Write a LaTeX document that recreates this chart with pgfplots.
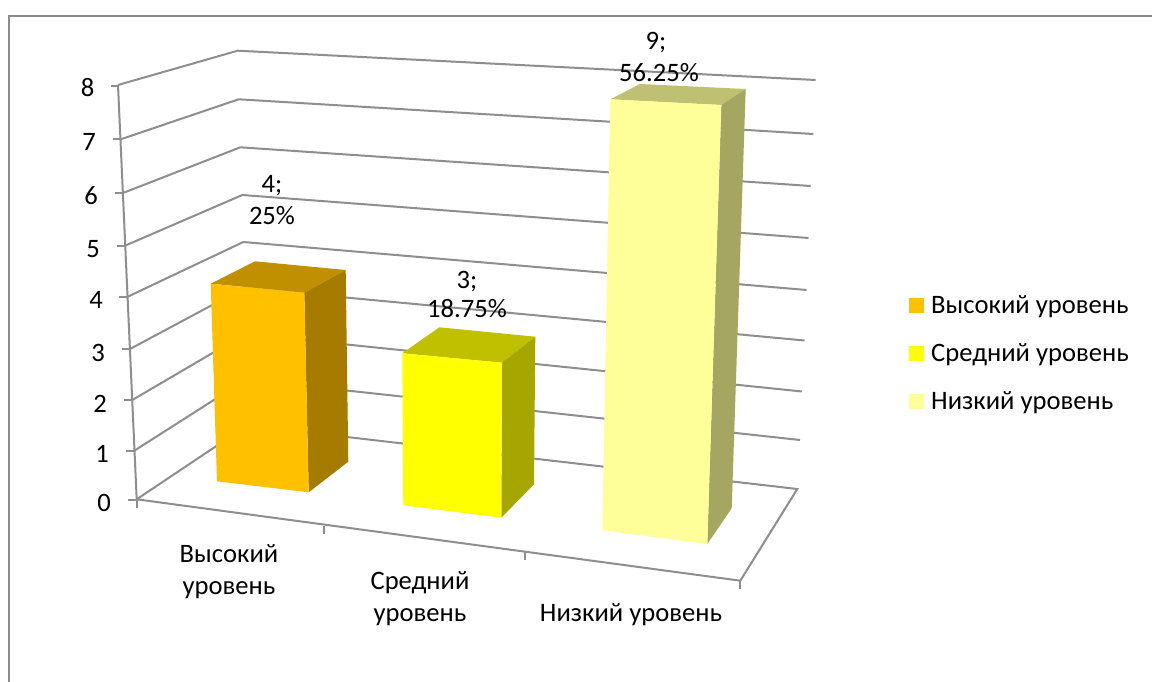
\documentclass[border=0pt]{standalone}
\usepackage{fontspec}
\setmainfont{Carlito}
\usepackage{pgfplots}
\pgfplotsset{compat=1.18}
\definecolor{gridc}{HTML}{8E8E8E}
\definecolor{framec}{HTML}{8C8C8C}
\definecolor{oF}{HTML}{FFC000}\definecolor{oT}{HTML}{C09000}\definecolor{oS}{HTML}{A67C00}
\definecolor{yF}{HTML}{FFFF00}\definecolor{yT}{HTML}{C0C000}\definecolor{yS}{HTML}{A6A600}
\definecolor{lF}{HTML}{FFFF99}\definecolor{lT}{HTML}{C0C073}\definecolor{lS}{HTML}{A6A663}
\begin{document}
\begin{tikzpicture}[every node/.style={font=\fontsize{26.6}{32}\selectfont,text=black,inner sep=0pt}]
\begin{axis}[
  scale only axis,width=1152pt,height=682pt,
  xmin=0,xmax=1152,ymin=0,ymax=682,y dir=reverse,
  hide axis,clip=true,
  legend cell align=left,
  legend style={at={(axis cs:909,294)},anchor=north west,draw=none,fill=none,
    font=\fontsize{26.6}{32}\selectfont,inner sep=0pt,outer sep=0pt,
    row sep=24.5pt,/tikz/column 1/.style={column sep=5.5pt}},
  legend image code/.code={\fill[#1] (0pt,-7.3pt) rectangle (14.7pt,7.3pt);},
]
% page background and outer frame
\addplot[fill=white,draw=none,forget plot] coordinates {(0,0)(1152,0)(1152,682)(0,682)} --cycle;
\addplot[framec,line width=2.2pt,forget plot] coordinates {(9,682)(9,16)(1152,16)};
% gridlines: front wall edge, back corner, right end
\addplot[gridc,line width=2pt,forget plot] coordinates {(118,85)(237.7,50.7)(815.7,80)};
\addplot[gridc,line width=2pt,forget plot] coordinates {(120.7,139.3)(238.7,99.3)(813.3,134)};
\addplot[gridc,line width=2pt,forget plot] coordinates {(123,193)(240.3,147.3)(810.7,186)};
\addplot[gridc,line width=2pt,forget plot] coordinates {(125,245.7)(242.3,195)(808.5,238)};
\addplot[gridc,line width=2pt,forget plot] coordinates {(127.7,296.7)(243.3,242)(806.5,290)};
\addplot[gridc,line width=2pt,forget plot] coordinates {(130,349)(244,288)(804.5,340.5)};
\addplot[gridc,line width=2pt,forget plot] coordinates {(132.3,400)(245,334)(802,391.5)};
\addplot[gridc,line width=2pt,forget plot] coordinates {(134.3,450.7)(246,379.5)(800,440)};
\addplot[gridc,line width=2pt,forget plot] coordinates {(136.7,499.3)(247,425.5)(797.3,489)(740.3,580.7)(136.7,499.3)};
% value axis and ticks
\addplot[gridc,line width=2pt,forget plot] coordinates {(118,85)(136.7,499.3)};
\addplot[gridc,line width=2pt,forget plot] coordinates {(111,86)(118,86)};
\addplot[gridc,line width=2pt,forget plot] coordinates {(113,139.5)(120.7,139.5)};
\addplot[gridc,line width=2pt,forget plot] coordinates {(115,193)(123,193)};
\addplot[gridc,line width=2pt,forget plot] coordinates {(117,246)(125,246)};
\addplot[gridc,line width=2pt,forget plot] coordinates {(119,297)(127.7,297)};
\addplot[gridc,line width=2pt,forget plot] coordinates {(122,349)(130,349)};
\addplot[gridc,line width=2pt,forget plot] coordinates {(124,400)(132.3,400)};
\addplot[gridc,line width=2pt,forget plot] coordinates {(126,451)(134.3,451)};
\addplot[gridc,line width=2pt,forget plot] coordinates {(128,499.5)(136.7,499.5)};
% category ticks
\addplot[gridc,line width=2pt,forget plot] coordinates {(136.6,499.3)(136.6,508)};
\addplot[gridc,line width=2pt,forget plot] coordinates {(324,525.7)(324,533.5)};
\addplot[gridc,line width=2pt,forget plot] coordinates {(525,552)(525,560)};
\addplot[gridc,line width=2pt,forget plot] coordinates {(740.3,580.7)(740.3,589)};
% bar: Высокий уровень, value 4
\addplot[fill=oT,draw=none,forget plot] coordinates {(210.7,283.7)(255,261.3)(345.7,270)(304.3,292.7)} --cycle;
\addplot[fill=oS,draw=none,forget plot] coordinates {(304.3,292.7)(345.7,270)(348.3,461.7)(308.7,492.3)} --cycle;
\addplot[fill=oF,draw=none] coordinates {(210.7,283.7)(304.3,292.7)(308.7,492.3)(217,481.3)} --cycle;
\addlegendentry{Высокий уровень}
% bar: Средний уровень, value 3
\addplot[fill=yT,draw=none,forget plot] coordinates {(402.3,353.3)(439.3,327.3)(535.3,336.7)(502,362.7)} --cycle;
\addplot[fill=yS,draw=none,forget plot] coordinates {(502,362.7)(535.3,336.7)(534,484.3)(501.3,517.7)} --cycle;
\addplot[fill=yF,draw=none] coordinates {(402.3,353.3)(502,362.7)(501.3,517.7)(403.3,505.3)} --cycle;
\addlegendentry{Средний уровень}
% bar: Низкий уровень, value 9 (cut at the axis maximum 8)
\addplot[fill=lT,draw=none,forget plot] coordinates {(610.3,99.3)(640,84)(745.7,89)(721.3,105)} --cycle;
\addplot[fill=lS,draw=none,forget plot] coordinates {(721.3,105)(745.7,89)(731.7,508.3)(707.3,544)} --cycle;
\addplot[fill=lF,draw=none] coordinates {(610.3,99.3)(721.3,105)(707.3,544)(602.3,530.3)} --cycle;
\addlegendentry{Низкий уровень}
% value tick labels
\node at (axis cs:87.5,88) {8};
\node at (axis cs:89,142) {7};
\node at (axis cs:91,196) {6};
\node at (axis cs:93,249) {5};
\node at (axis cs:96,300) {4};
\node at (axis cs:98,353) {3};
\node at (axis cs:100,404) {2};
\node at (axis cs:102,454) {1};
\node at (axis cs:104,503) {0};
% category labels
\node at (axis cs:229,554) {Высокий};
\node at (axis cs:229,590) {уровень};
\node at (axis cs:420,583) {Средний};
\node at (axis cs:420,617) {уровень};
\node at (axis cs:631,615) {Низкий уровень};
% data labels
\node at (axis cs:272,186) {4;};
\node at (axis cs:272,216) {25\%};
\node at (axis cs:467,282) {3;};
\node at (axis cs:467,309) {18.75\%};
\node at (axis cs:656,43) {9;};
\node at (axis cs:659,73) {56.25\%};
\end{axis}
\end{tikzpicture}
\end{document}
